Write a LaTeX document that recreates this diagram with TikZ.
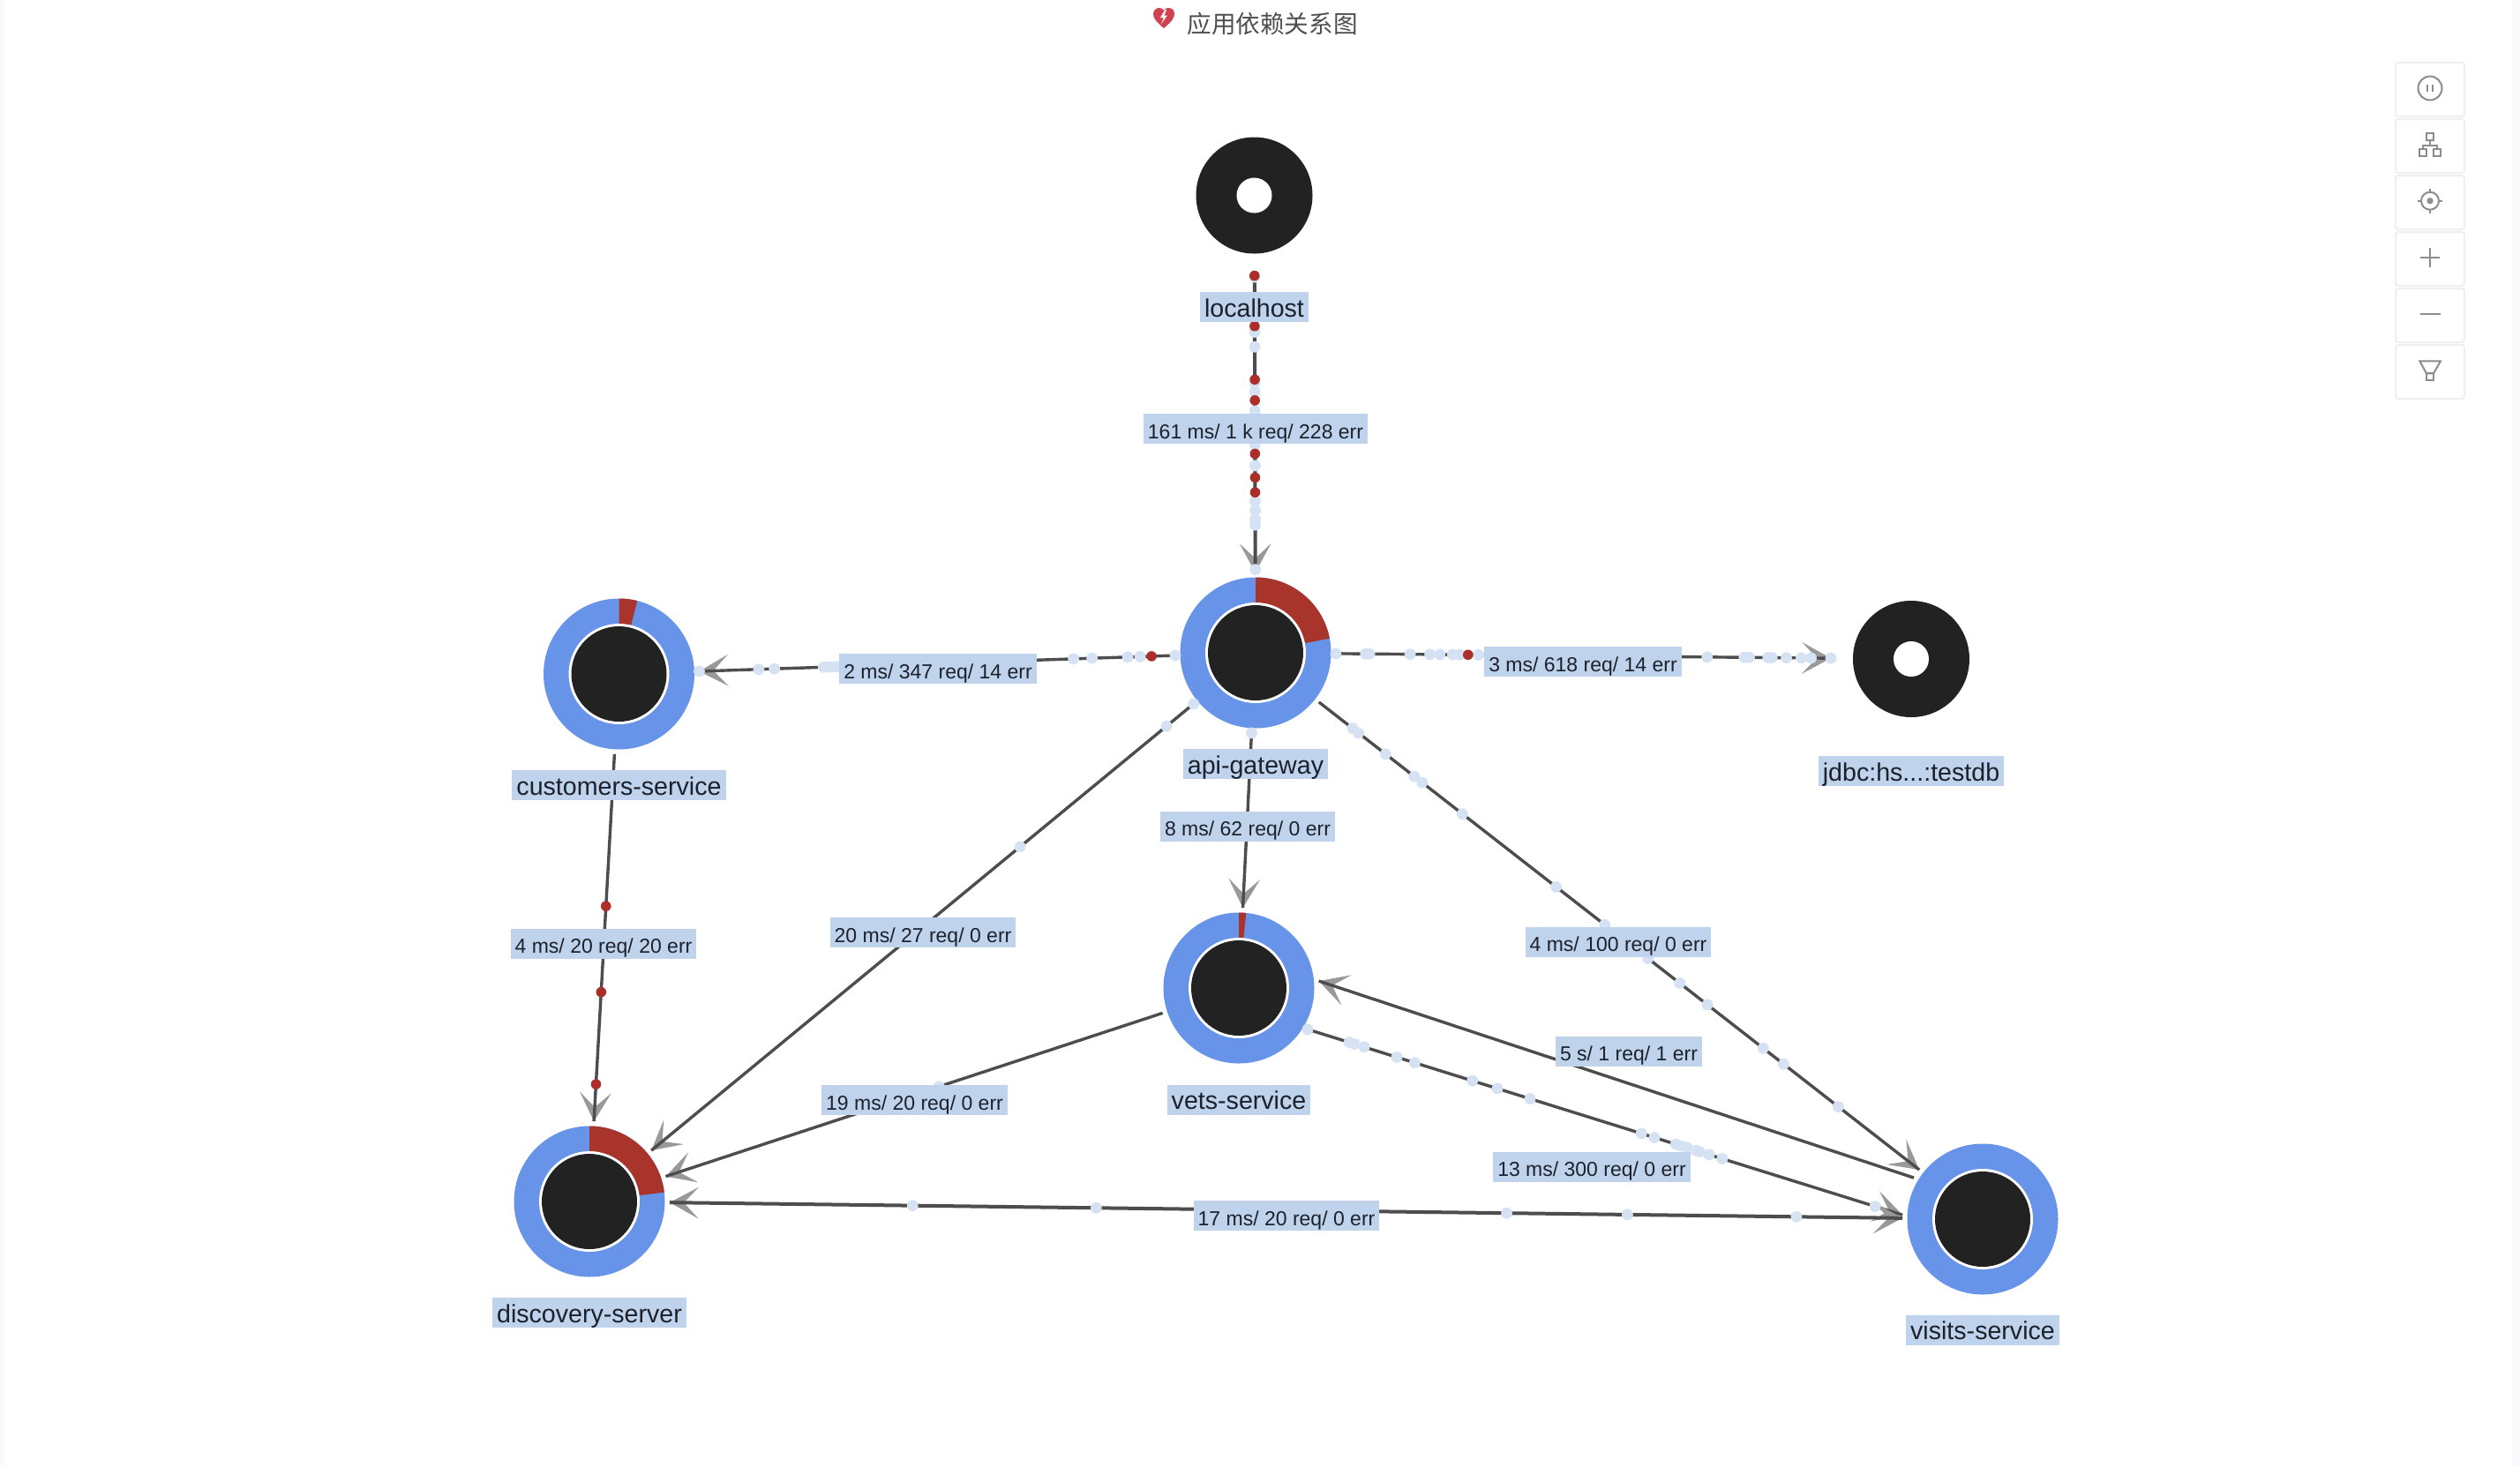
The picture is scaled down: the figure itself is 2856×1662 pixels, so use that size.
\documentclass[tikz,border=0pt]{standalone}
\usepackage{fontspec}
\setmainfont{Liberation Sans}
\newfontfamily\cjk{Noto Sans CJK SC}
\usetikzlibrary{arrows.meta}
\definecolor{ringblue}{HTML}{6794E8}
\definecolor{ringred}{HTML}{A9342B}
\definecolor{coredark}{HTML}{222222}
\definecolor{labelbg}{HTML}{BFD3EC}
\definecolor{labeltext}{HTML}{1C212B}
\definecolor{linedark}{HTML}{4D4D4D}
\definecolor{headgray}{HTML}{999999}
\definecolor{dotlight}{HTML}{D5E2F3}
\definecolor{dotred}{HTML}{AC2E2B}
\definecolor{iconline}{HTML}{8C8C8C}
\definecolor{iconedge}{HTML}{EFEFEF}
\definecolor{sidestrip}{HTML}{FAFAFD}
\definecolor{heartred}{HTML}{CF4350}
\definecolor{titlegray}{HTML}{4F4F4F}
\newcounter{dotn}
\newcommand{\flowline}[3][]{%
  \draw[headpath] (#2) -- (#3);
  \draw[linepath,#1] (#2) -- (#3);}
\newcommand{\dotson}[4]{%
  \foreach \p in {#3} {%
    \stepcounter{dotn}%
    \path (#1) -- (#2) node[pos=\p,#4,name=d\the\value{dotn}] {};}}
\newcommand{\svcring}[2]{%
  \fill[ringblue] (#1.center) circle[radius=42.75pt];
  \fill[ringred] (#1.center) -- ++(90:42.75pt) arc[start angle=90,end angle=90-#2,radius=42.75pt] -- cycle;
  \fill[white] (#1.center) circle[radius=28.5pt];
  \fill[coredark] (#1.center) circle[radius=27pt];}
\newcommand{\sinkdisc}[1]{%
  \fill[coredark] (#1.center) circle[radius=33pt];
  \fill[white] (#1.center) circle[radius=10pt];}
\tikzset{
  hub/.style={circle,minimum size=91pt,inner sep=0pt,outer sep=0pt},
  linepath/.style={draw=linedark,line width=1.7pt},
  headpath/.style={draw=headgray,line width=1pt,-{Stealth[length=16.5pt,width=18pt,inset=8.5pt,color=headgray,line width=0pt]}},
  headboth/.style={draw=headgray,line width=1pt,{Stealth[length=16.5pt,width=18pt,inset=8.5pt,color=headgray,line width=0pt]}-{Stealth[length=16.5pt,width=18pt,inset=8.5pt,color=headgray,line width=0pt]}},
  lite/.style={circle,fill=dotlight,minimum size=6.4pt,inner sep=0pt},
  hot/.style={circle,fill=dotred,minimum size=5.8pt,inner sep=0pt},
  tagbase/.style={fill=labelbg,text=labeltext,inner xsep=2.5pt,inner ysep=0pt,text height=14pt,text depth=3pt},
  elabel/.style={tagbase,font=\fontsize{11.5}{13}\selectfont},
  nlabel/.style={tagbase,font=\fontsize{14.3}{16}\selectfont},
  toolbox/.style={draw=iconedge,fill=white,line width=1pt,rounded corners=1.5pt},
  icon/.style={draw=iconline,line width=1pt},
}
\begin{document}
\begin{tikzpicture}[x=0.5pt,y=-0.5pt]
\useasboundingbox (0,0) rectangle (2856,1662);
\fill[white] (0,0) rectangle (2856,1662);
\fill[sidestrip] (0,0) rectangle (5,1662);
\fill[sidestrip] (2847,0) rectangle (2856,1662);

% title
\fill[heartred] (1319,32) .. controls (1311,25) and (1307,21) .. (1307,16)
  .. controls (1307,11) and (1311,9) .. (1314,9)
  .. controls (1316,9) and (1318,10) .. (1319,12)
  .. controls (1320,10) and (1322,9) .. (1324,9)
  .. controls (1328,9) and (1331,11) .. (1331,16)
  .. controls (1331,21) and (1327,25) .. (1319,32) -- cycle;
\fill[white] (1320.5,11) -- (1315,20) -- (1319,20) -- (1316,27) -- (1323,17.5) -- (1319.5,17.5) -- (1322,11) -- cycle;
\node[anchor=west,inner sep=0pt,text=titlegray,font=\cjk\fontsize{13.8}{15}\selectfont] (title) at (1345,26.5) {应用依赖关系图};

% toolbox
\foreach \yc in {102,166,230,294,358,422}
  \draw[toolbox] (2715,\yc-31) rectangle (2793,\yc+30);
\draw[icon] (2754,100) circle[radius=6.75pt];
\draw[icon] (2750.7,96) -- (2750.7,104) (2757.3,96) -- (2757.3,104);
\draw[icon] (2750,151) rectangle (2758,159);
\draw[icon] (2741.7,168.7) rectangle (2749.7,176.7);
\draw[icon] (2758.3,168.7) rectangle (2766.3,176.7);
\draw[icon] (2754,159) -- (2754,165) (2745.7,168.7) -- (2745.7,165) -- (2762.3,165) -- (2762.3,168.7);
\draw[icon] (2754,227.7) circle[radius=5pt];
\fill[iconline] (2754,227.7) circle[radius=1.8pt];
\draw[icon] (2754,213.7) -- (2754,217.7) (2754,237.7) -- (2754,241.7) (2740,227.7) -- (2744,227.7) (2764,227.7) -- (2768,227.7);
\draw[icon] (2743,291.7) -- (2765,291.7) (2754,280.7) -- (2754,302.7);
\draw[icon] (2742.5,355.7) -- (2765.5,355.7);
\draw[icon] (2742.3,409.3) -- (2766,409.3) -- (2758,423.3) -- (2750,423.3) -- cycle;
\draw[icon] (2750,423.3) rectangle (2758,430.7);

% services (invisible anchors for the connectors)
\node[hub] (localhost) at (1421.5,221.5) {};
\node[hub] (api) at (1423,740) {};
\node[hub] (customers) at (701.5,764) {};
\node[hub] (jdbc) at (2166,747) {};
\node[hub] (vets) at (1404,1120) {};
\node[hub] (discovery) at (668,1362) {};
\node[hub] (visits) at (2247,1382) {};

\sinkdisc{localhost}
\sinkdisc{jdbc}
\svcring{api}{79}
\svcring{customers}{14}
\svcring{vets}{5.5}
\svcring{discovery}{83}
\fill[ringblue] (visits.center) circle[radius=42.75pt];
\fill[white] (visits.center) circle[radius=28.5pt];
\fill[coredark] (visits.center) circle[radius=27pt];

% offset anchors of the paired vets/visits connectors
\coordinate (vetsIn) at (vets.5);
\coordinate (vetsOut) at (vets.-31);
\coordinate (visitsOut) at (visits.149);
\coordinate (visitsIn) at (visits.177);

% connectors
\flowline[line width=2pt]{localhost}{api}
\flowline{api}{customers}
\flowline{api}{jdbc}
\flowline{api}{vets}
\flowline{api}{discovery}
\flowline{api}{visits}
\flowline{customers}{discovery}
\flowline{vets}{discovery}
\flowline{visitsOut}{vetsIn}
\flowline{vetsOut}{visitsIn}
\draw[headboth] (discovery) -- (visits);
\draw[linepath,line width=2pt] (discovery) -- (visits);

% traffic dots
\dotson{localhost}{api}{.005,.19,.24,.36,.39,.455,.57,.64,.76,.79,.82,.84,.99}{lite}
\dotson{localhost}{api}{.0,.17,.35,.42,.60,.68,.73}{hot}
\dotson{api}{customers}{0,.074,.10,.175,.214,.713,.726,.739,.842,.875,1}{lite}
\dotson{api}{customers}{.05}{hot}
\dotson{api}{jdbc}{0,.06,.068,.15,.19,.21,.236,.25,.288,.75,.825,.835,.873,.881,.91,.94,.96,1}{lite}
\dotson{api}{jdbc}{.267}{hot}
\dotson{api}{vets}{0}{lite}
\dotson{api}{discovery}{0,.05,.32}{lite}
\dotson{api}{visits}{.056,.066,.111,.159,.172,.239,.395,.476,.548,.601,.647,.74,.774,.865}{lite}
\dotson{customers}{discovery}{.414,.648,.899}{hot}
\dotson{vets}{discovery}{.45}{lite}
\dotson{discovery}{visits}{.197,.346,.679,.777,.914}{lite}
\dotson{vetsOut}{visitsIn}{0,.07,.079,.095,.15,.18,.277,.319,.374,.561,.583,.619,.628,.638,.653,.659,.675,.697,.954}{lite}

% connector labels
\node[elabel] (l1) at (1423,486) {161 ms/ 1 k req/ 228 err};
\node[elabel] (l2) at (1063,758) {2 ms/ 347 req/ 14 err};
\node[elabel] (l3) at (1794,750) {3 ms/ 618 req/ 14 err};
\node[elabel] (l4) at (1414,936.5) {8 ms/ 62 req/ 0 err};
\node[elabel] (l5) at (1046,1057) {20 ms/ 27 req/ 0 err};
\node[elabel] (l6) at (684,1069.5) {4 ms/ 20 req/ 20 err};
\node[elabel] (l7) at (1834,1067.5) {4 ms/ 100 req/ 0 err};
\node[elabel] (l8) at (1846,1191.5) {5 s/ 1 req/ 1 err};
\node[elabel] (l9) at (1036.5,1247) {19 ms/ 20 req/ 0 err};
\node[elabel] (l10) at (1804,1322.5) {13 ms/ 300 req/ 0 err};
\node[elabel] (l11) at (1458,1378) {17 ms/ 20 req/ 0 err};

% service labels
\node[nlabel] (tlocal) at (1421.5,348) {localhost};
\node[nlabel] (tapi) at (1423,866) {api-gateway};
\node[nlabel] (tcust) at (701.5,890) {customers-service};
\node[nlabel] (tjdbc) at (2166,874) {jdbc:hs...:testdb};
\node[nlabel] (tvets) at (1404,1246.5) {vets-service};
\node[nlabel] (tdisc) at (668,1488) {discovery-server};
\node[nlabel] (tvis) at (2247,1507.5) {visits-service};
\end{tikzpicture}
\end{document}
